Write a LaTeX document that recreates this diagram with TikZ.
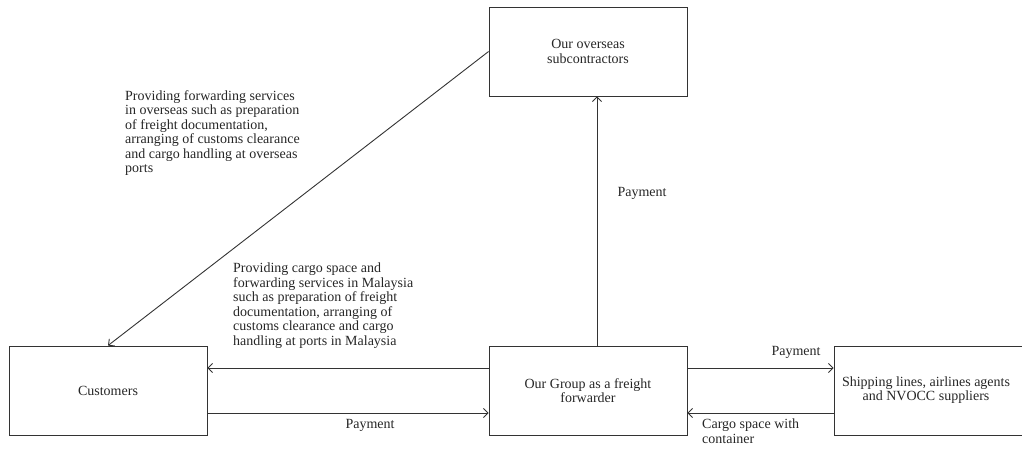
\documentclass[tikz,border=0pt]{standalone}
\usepackage{fontspec}
\setmainfont{Liberation Serif}
\usetikzlibrary{arrows.meta}
\begin{document}
\begin{tikzpicture}[x=1pt,y=-1pt,
  every node/.style={font=\fontsize{14}{14.5}\selectfont, text=black!85},
  party/.style={draw=black!80, line width=0.9pt, minimum width=198pt, minimum height=89pt,
    inner sep=0pt, align=center},
  flow/.style={draw=black!80, line width=0.9pt,
    -{Straight Barb[length=4.5pt,width=9pt,line width=0.9pt]}},
  note/.style={align=left, inner sep=0pt, anchor=north west}
]
\useasboundingbox (0,0) rectangle (1022,448);

% the four parties
\node[party] (ovs)  at (588,51.5)  {Our overseas\\subcontractors};
\node[party] (cust) at (108,390.5) {Customers};
\node[party] (grp)  at (588,390.5) {Our Group as a freight\\forwarder};
\node[party] (ship) at (933,390.5)
  {\begin{tabular}{@{}c@{}}Shipping lines, airlines agents\\and NVOCC suppliers\end{tabular}\hspace*{14pt}};

% flows of services and payments
\draw[flow] (ovs.west) -- (cust.north);
\draw[flow] ([xshift=9pt]grp.north) -- ([xshift=9pt]ovs.south);
\draw[flow] ([yshift=22.5pt]grp.west) -- ([yshift=22.5pt]cust.east);
\draw[flow] ([yshift=-22.5pt]cust.east) -- ([yshift=-22.5pt]grp.west);
\draw[flow] ([yshift=22.5pt]grp.east) -- ([yshift=22.5pt]ship.west);
\draw[flow] ([yshift=-22.5pt]ship.west) -- ([yshift=-22.5pt]grp.east);

% flow labels
\node[note] (t1) at (125,90) {Providing forwarding services\\in overseas such as preparation\\of freight documentation,\\arranging of customs clearance\\and cargo handling at overseas\\ports};
\node[note] (t2) at (233,263) {Providing cargo space and\\forwarding services in Malaysia\\such as preparation of freight\\documentation, arranging of\\customs clearance and cargo\\handling at ports in Malaysia};
\node (p1) at (642,193) {Payment};
\node (p2) at (370,425) {Payment};
\node (p3) at (796,352) {Payment};
\node[note] (t3) at (702,419) {Cargo space with\\container};
\end{tikzpicture}
\end{document}
